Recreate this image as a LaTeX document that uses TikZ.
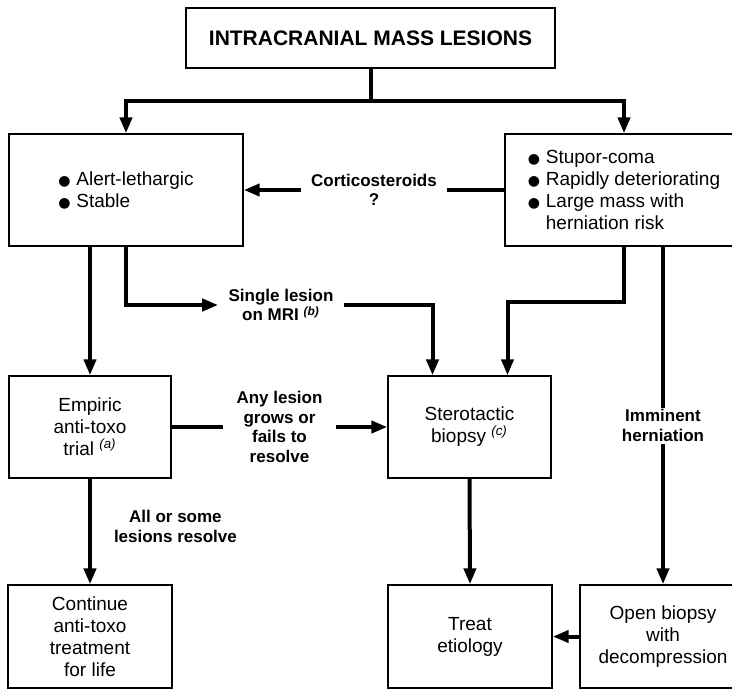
\documentclass[tikz,border=0pt]{standalone}
\usepackage{fontspec}
\setmainfont{Liberation Sans}
\newfontfamily\dotfont{DejaVu Sans}
\usetikzlibrary{arrows.meta,calc,positioning}
\newcommand{\itm}{\makebox[9pt][l]{\dotfont\fontsize{7}{0}\selectfont ●}}
\newcommand{\note}[1]{\textsuperscript{\textit{(#1)}}}
\tikzset{
  stage/.style={
    draw, line width=0.7pt, fill=white, align=center, inner sep=0pt,
    font=\fontsize{9.5}{11}\selectfont
  },
  cond/.style={
    fill=white, align=center, inner xsep=5pt, inner ysep=1pt,
    font=\bfseries\fontsize{8.5}{9.75}\selectfont
  },
  flow/.style={-{Triangle[length=8pt,width=6pt]}, line width=2pt},
  trunk/.style={line width=2pt}
}

\begin{document}
\begin{tikzpicture}[x=0.5pt,y=-0.5pt]
  \useasboundingbox (0,0) rectangle (732,690);
  \clip (0,0) rectangle (732,690);

  % boxes
  \node[stage,minimum width=184.5pt,minimum height=30pt,
    font=\bfseries\fontsize{10.5}{12}\selectfont] (mass) at (370.5,38)
    {INTRACRANIAL MASS LESIONS};
  \node[stage,align=left,minimum width=117pt,minimum height=56pt] (alert) at (126,190)
    {\itm Alert-lethargic\\ \itm Stable};
  \node[stage,align=left,minimum width=119pt,minimum height=56pt] (stupor) at (624,190)
    {\itm Stupor-coma\\ \itm Rapidly deteriorating\\ \itm Large mass with\\
     \hspace*{9pt}herniation risk};
  \node[stage,minimum width=81pt,minimum height=51pt] (trial) at (90,427)
    {Empiric\\anti-toxo\\trial \note{a}};
  \node[stage,minimum width=81.5pt,minimum height=51pt] (stereo) at (469.5,427)
    {Sterotactic\\biopsy \note{c}};
  \node[stage,minimum width=82pt,minimum height=51.5pt] (cont) at (90,636.5)
    {Continue\\anti-toxo\\treatment\\for life};
  \node[stage,minimum width=82pt,minimum height=51.5pt] (treat) at (470,636.5)
    {Treat\\etiology};
  \node[stage,minimum width=83pt,minimum height=51.5pt] (open) at (663,636.5)
    {Open biopsy\\with\\decompression};

  % branches
  \coordinate (split) at ($(mass.south)+(0,32)$);
  \coordinate (inL) at ($(stereo.north)+(-37,0)$);
  \coordinate (inR) at ($(stereo.north)+(38,0)$);
  \draw[trunk] (mass.south) -- (split);
  \draw[trunk,{Triangle[length=8pt,width=6pt]}-{Triangle[length=8pt,width=6pt]}]
    (alert.north) |- (split) -| (stupor.north);

  \draw[flow] (stupor.west) -- node[cond]{Corticosteroids\\?} (alert.east);

  \node[cond] (single) at (281,305) {Single lesion\\on MRI \note{b}};
  \draw[flow] (alert.south) |- (single.west);
  \draw[flow] (single.east) -| (inL);
  \draw[flow] (stupor.south) |- ($(inR)+(0,-73)$) -- (inR);

  \draw[flow] (alert.south -| trial.north) -- (trial.north);
  \draw[flow] (trial.east) -- node[cond,inner xsep=7pt]
    {Any lesion\\grows or\\fails to\\resolve} (stereo.west);
  \draw[flow] (trial.south) -- node[cond,fill=none,right=6pt,pos=0.45]
    {All or some\\lesions resolve} (cont.north);

  \draw[flow] (stereo.south) -- (treat.north);
  \draw[flow] (stupor.south -| open.north) -- node[cond,pos=0.53]
    {Imminent\\herniation} (open.north);
  \draw[flow] (open.west) -- (treat.east);
\end{tikzpicture}
\end{document}
